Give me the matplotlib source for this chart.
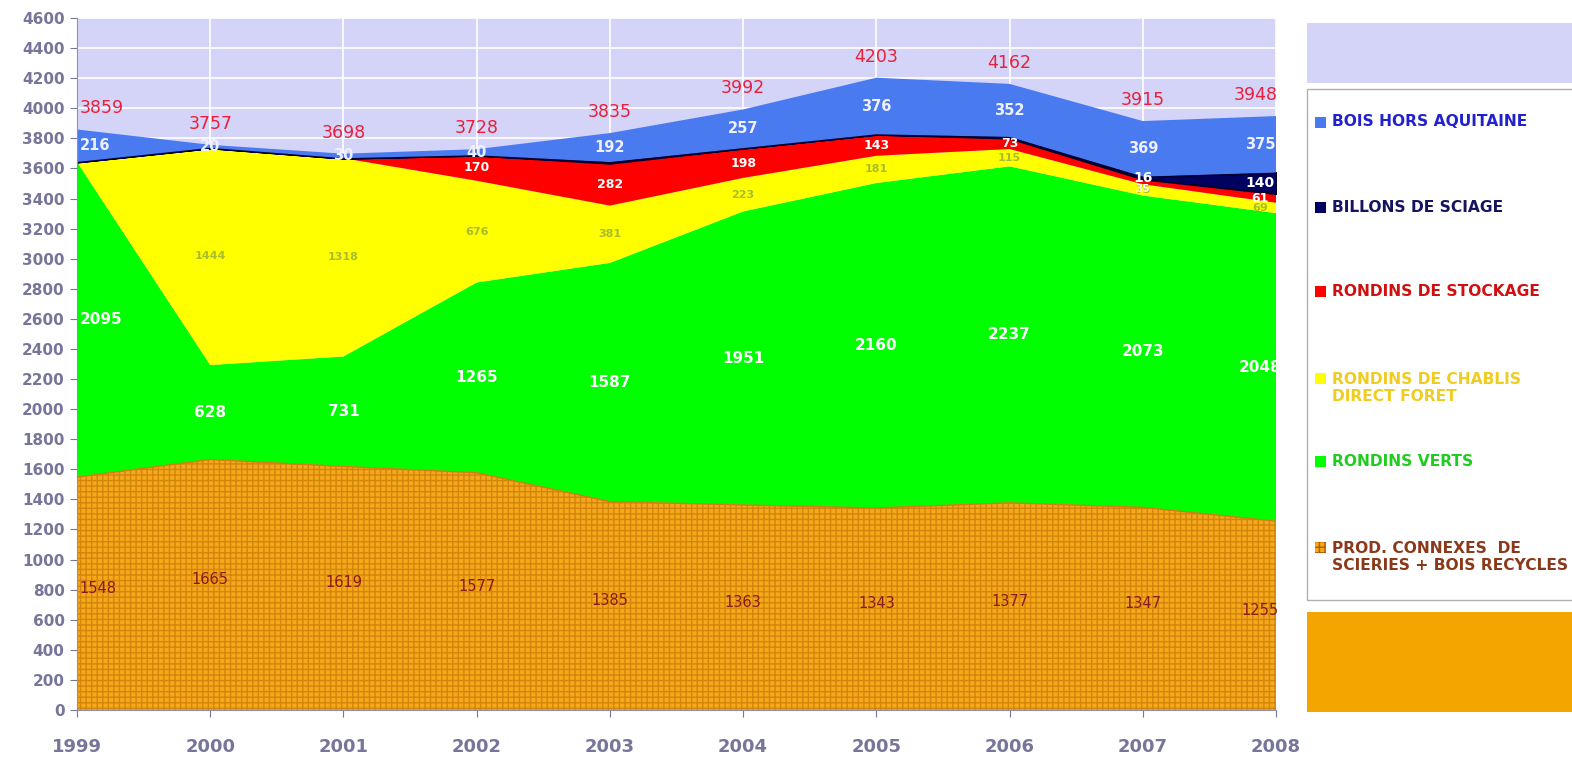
import matplotlib.pyplot as plt
from matplotlib.patches import Rectangle

# wood supply by origin, 1999-2008
years = [1999, 2000, 2001, 2002, 2003, 2004, 2005, 2006, 2007, 2008]
prod = [1548, 1665, 1619, 1577, 1385, 1363, 1343, 1377, 1347, 1255]
verts = [2095, 628, 731, 1265, 1587, 1951, 2160, 2237, 2073, 2048]
chablis = [0, 1444, 1318, 676, 381, 223, 181, 115, 75, 69]
stockage = [0, 0, 0, 170, 282, 198, 143, 73, 35, 61]
billons = [0, 0, 0, 0, 8, 0, 0, 8, 16, 140]
bois = [216, 20, 30, 40, 192, 257, 376, 352, 369, 375]
totals = [3859, 3757, 3698, 3728, 3835, 3992, 4203, 4162, 3915, 3948]

series = [prod, verts, chablis, stockage, billons, bois]
fills = ['#f4a81a', '#00ff00', '#ffff00', '#ff0000', '#000060', '#4a7af0']
lab_col = ['#8b1a1a', 'white', '#a8bc2c', 'white', 'white', '#eef0ff']
lab_size = [10.5, 11, 8, 9, 10, 10.5]
lab_weight = ['normal', 'bold', 'bold', 'bold', 'bold', 'bold']
min_lab = [1, 1, 1, 1, 10, 10]

tick_col = '#76769a'

fig = plt.figure(figsize=(15.72, 7.6), dpi=100)
ax = fig.add_axes([77/1572, 50/760, 1199/1572, 692/760])
ax.set_facecolor('#d4d4f8')

plt.rcParams['hatch.linewidth'] = 1.0

base = [0]*len(years)
for k, s in enumerate(series):
    top = [b + v for b, v in zip(base, s)]
    if k == 0:
        ax.fill_between(years, base, top, facecolor=fills[k], edgecolor='#d4860c',
                        hatch='+++', linewidth=0, zorder=2)
        ax.plot(years, top, color='#d08010', lw=1, zorder=3)
    elif k == 4:
        ax.fill_between(years, base, top, facecolor=fills[k], edgecolor='#000030',
                        linewidth=1.5, zorder=2)
    else:
        ax.fill_between(years, base, top, facecolor=fills[k], linewidth=0, zorder=2)
    for i, y in enumerate(years):
        if s[i] < min_lab[k]:
            continue
        if k == 0:
            ypos = s[i]/2 + 35
        else:
            ypos = base[i] + s[i]/2
        size = lab_size[k]
        # 2007: small red band label sits just under the billons one
        if k == 3 and y == 2007:
            ypos -= 50
            size = 7.5
        ha = 'center'
        x = y
        if i == 0:
            ha, x = 'left', y + 0.02
        elif i == len(years) - 1:
            x = y - 0.12
        ax.text(x, ypos, str(s[i]), color=lab_col[k], fontsize=size,
                fontweight=lab_weight[k], ha=ha, va='center', zorder=5)
    base = top

for i, y in enumerate(years):
    ha, x = 'center', y
    if i == 0:
        ha, x = 'left', y + 0.02
    elif i == len(years) - 1:
        x = y - 0.15
    ax.text(x, totals[i] + 140, str(totals[i]), color='#e8203c', fontsize=12.5,
            ha=ha, va='center', zorder=5)

ax.set_xlim(1999, 2008)
ax.set_ylim(0, 4600)
ax.set_yticks(range(0, 4601, 200))
ax.set_xticks(years)
ax.grid(True, color='white', lw=1.2, zorder=1)
ax.set_axisbelow(True)
ax.tick_params(axis='y', colors=tick_col, labelsize=11, length=5, pad=4)
ax.tick_params(axis='x', colors=tick_col, labelsize=13, length=5, pad=15)
for t in ax.get_yticklabels() + ax.get_xticklabels():
    t.set_fontweight('bold')
for sp in ['top', 'right']:
    ax.spines[sp].set_visible(False)
for sp in ['left', 'bottom']:
    ax.spines[sp].set_color('#9090a8')

# legend panel on the right
def box(x0, y0, x1, y1, **kw):
    fig.patches.append(Rectangle((x0/1572, 1 - y1/760), (x1 - x0)/1572, (y1 - y0)/760,
                                 transform=fig.transFigure, **kw))

box(1307, 23, 1580, 83, facecolor='#d4d4f8', edgecolor='none')
box(1307, 89, 1580, 600, facecolor='white', edgecolor='#b0b0b0', lw=1)
box(1307, 612, 1580, 712, facecolor='#f5a500', edgecolor='none')

legend_items = [
    ('BOIS HORS AQUITAINE', 122, '#4a7af0', '#2222cc'),
    ('BILLONS DE SCIAGE', 207, '#000060', '#141460'),
    ('RONDINS DE STOCKAGE', 291, '#ff0000', '#d01010'),
    ('RONDINS DE CHABLIS\nDIRECT FORET', 388, '#ffff00', '#f0cc20'),
    ('RONDINS VERTS', 461, '#00ff00', '#20cc20'),
    ('PROD. CONNEXES  DE\nSCIERIES + BOIS RECYCLES', 557, '#f4a81a', '#8a3a1a'),
]
for name, ypix, mc, tc in legend_items:
    nl = name.count('\n')
    my = ypix - nl*10
    hatch = '+++' if mc == '#f4a81a' else None
    box(1315, my - 5, 1326, my + 6, facecolor=mc,
        edgecolor='#b85a00' if hatch else 'none', hatch=hatch, lw=0)
    fig.text(1332/1572, 1 - ypix/760, name, color=tc, fontsize=11.2,
             fontweight='bold', ha='left', va='center', linespacing=1.15)

fig.savefig('out.png', dpi=100)
